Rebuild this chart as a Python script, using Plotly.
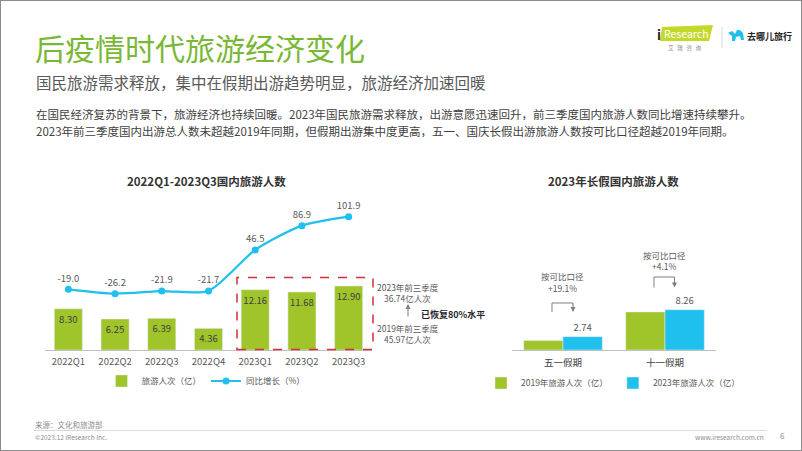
import plotly.graph_objects as go

W, H = 802, 451
FONT = "Noto Sans CJK SC"

# data - left chart
quarters = ['2022Q1', '2022Q2', '2022Q3', '2022Q4', '2023Q1', '2023Q2', '2023Q3']
trips = [8.30, 6.25, 6.39, 4.36, 12.16, 11.68, 12.90]      # 旅游人次（亿）
yoy = [-19.0, -26.2, -21.9, -21.7, 46.5, 86.9, 101.9]      # 同比增长（%）

# data - right chart
holidays = ['五一假期', '十一假期']
trips_2019 = [1.95, 7.82]
trips_2023 = [2.74, 8.26]

GREEN = '#a0c52b'
CYAN = '#1fbfee'
TITLE_GREEN = '#79b834'
GREY = '#595959'


def px(x):
    return x / W


def py(y):
    return 1 - y / H


fig = go.Figure()

fig.add_trace(go.Bar(
    x=quarters, y=trips, name='旅游人次（亿）', marker_color=GREEN, width=0.6,
    text=['%.2f' % v for v in trips], textposition='inside', insidetextanchor='end',
    textangle=0, constraintext='none', textfont=dict(size=9.5, color='#404040'),
    xaxis='x', yaxis='y', legend='legend'))

fig.add_trace(go.Scatter(
    x=quarters, y=yoy, name='同比增长（%）', mode='lines+markers+text',
    line=dict(color=CYAN, width=2.2, shape='spline', smoothing=0.7),
    marker=dict(size=7, color=CYAN),
    text=['%.1f' % v for v in yoy], textposition='top center',
    textfont=dict(size=9.5, color=GREY), cliponaxis=False,
    xaxis='x', yaxis='y2', legend='legend'))

fig.add_trace(go.Bar(
    x=holidays, y=trips_2019, name='2019年旅游人次（亿）', marker_color=GREEN,
    xaxis='x2', yaxis='y3', legend='legend2'))

fig.add_trace(go.Bar(
    x=holidays, y=trips_2023, name='2023年旅游人次（亿）', marker_color=CYAN,
    text=['%.2f' % v for v in trips_2023], textposition='outside', cliponaxis=False,
    textfont=dict(size=9.5, color=GREY),
    xaxis='x2', yaxis='y3', legend='legend2'))

ydom = [py(350), py(200)]

fig.update_layout(
    width=W, height=H,
    margin=dict(l=0, r=0, t=0, b=0),
    paper_bgcolor='white', plot_bgcolor='white',
    font=dict(family=FONT, color=GREY, size=9),
    barmode='group', bargap=0.23, bargroupgap=0,
    xaxis=dict(domain=[px(45), px(372)], anchor='y', showline=True, linecolor='#bfbfbf',
               linewidth=1, ticks='', showgrid=False, ticklabelstandoff=3,
               tickfont=dict(size=9.5, color=GREY)),
    yaxis=dict(domain=ydom, range=[0, 150 / 4.96], visible=False),
    yaxis2=dict(overlaying='y', range=[-120, 129.6], visible=False),
    xaxis2=dict(domain=[px(512), px(716)], anchor='y3', showline=True, linecolor='#bfbfbf',
                linewidth=1, ticks='', showgrid=False, ticklabelstandoff=4,
                tickfont=dict(size=9.5, color='#404040')),
    yaxis3=dict(domain=ydom, anchor='x2', range=[0, 150 / 4.87], visible=False),
    legend=dict(orientation='h', x=px(206), xanchor='center', y=py(381), yanchor='middle',
                font=dict(size=8.5, color=GREY), bgcolor='rgba(0,0,0,0)', itemwidth=30),
    legend2=dict(orientation='h', x=px(613), xanchor='center', y=py(383), yanchor='middle',
                 font=dict(size=8.5, color=GREY), bgcolor='rgba(0,0,0,0)', itemwidth=30),
)

ann = []


def note(x, y, text, size=9, color=GREY, anchor='center', **kw):
    ann.append(dict(x=px(x), y=py(y), xref='paper', yref='paper', text=text,
                    showarrow=False, xanchor=anchor, yanchor='middle', borderpad=0,
                    font=dict(size=size, color=color, family=FONT), **kw))


note(34, 47, '后疫情时代旅游经济变化', 30, TITLE_GREEN, 'left')
note(35, 82, '国民旅游需求释放，集中在假期出游趋势明显，旅游经济加速回暖', 15.5, GREY, 'left')
note(35, 114, '在国民经济复苏的背景下，旅游经济也持续回暖。2023年国民旅游需求释放，出游意愿迅速回升，'
              '前三季度国内旅游人数同比增速持续攀升。', 11.5, '#404040', 'left')
note(35, 131, '2023年前三季度国内出游总人数未超越2019年同期，但假期出游集中度更高，五一、国庆长假出游旅游'
              '人数按可比口径超越2019年同期。', 11.5, '#404040', 'left')

note(206, 181, '<b>2022Q1-2023Q3国内旅游人数</b>', 11.5, '#333333')
note(613, 181, '<b>2023年长假国内旅游人数</b>', 11.5, '#333333')

# annotations beside the dashed box
note(408, 286.5, '2023年前三季度', 8.5)
note(408, 297.5, '36.74亿人次', 8.5)
note(408, 327.5, '2019年前三季度', 8.5)
note(408, 338.5, '45.97亿人次', 8.5)
note(420, 314, '<b>已恢复80%水平</b>', 9, '#262626', 'left')
ann.append(dict(x=px(408), y=py(304), xref='paper', yref='paper', text='', showarrow=True,
                ax=0, ay=14, arrowhead=2, arrowsize=1, arrowwidth=1, arrowcolor='#7f7f7f'))

# comparable growth notes (right chart)
note(562, 276, '按可比口径', 8.5)
note(562, 287.5, '+19.1%', 8.5)
note(664, 254.5, '按可比口径', 8.5)
note(664, 266, '+4.1%', 8.5)
for x0, x1, yb, yt in [(552, 573, 312, 303), (654, 674.5, 287.5, 277)]:
    ann.append(dict(x=px(x1), y=py(yb), xref='paper', yref='paper', text='', showarrow=True,
                    ax=0, ay=-(yb - yt), arrowhead=2, arrowsize=1, arrowwidth=1,
                    arrowcolor='#7f7f7f'))

# logo + footer
note(656, 34, '<b>i</b>', 13, '#222222', 'left')
note(663, 33.5, 'Research', 10.5, 'white', 'left')
note(685, 48, '艾   瑞   咨   询', 5.5, '#8c8c8c')
note(746, 36, '<b>去哪儿旅行</b>', 9, '#222222', 'left')
note(34, 424, '来源：文化和旅游部', 7.5, '#8c8c8c', 'left')
note(34, 436.5, '©2023.12 iResearch Inc.', 6.5, '#8c8c8c', 'left')
note(765, 436.5, 'www.iresearch.com.cn', 6.5, '#8c8c8c', 'right')
note(782, 435, '6', 8, '#8c8c8c')

fig.update_layout(annotations=ann)


def path(points):
    return 'M ' + ' L '.join('%f,%f' % (px(a), py(b)) for a, b in points)


shapes = [
    dict(type='rect', xref='paper', yref='paper', x0=px(237), x1=px(373), y0=py(349.5),
         y1=py(277.5), line=dict(color='#d62d3c', width=1.5, dash='dash')),
    dict(type='path', xref='paper', yref='paper',
         path=path([(552, 312), (552, 303), (573, 303), (573, 305)]),
         line=dict(color='#7f7f7f', width=1)),
    dict(type='path', xref='paper', yref='paper',
         path=path([(654, 287.5), (654, 277), (674.5, 277), (674.5, 279)]),
         line=dict(color='#7f7f7f', width=1)),
    # iResearch badge
    dict(type='path', xref='paper', yref='paper', layer='below',
         path=path([(660, 41), (662, 27), (713, 25), (709, 41)]) + ' Z',
         fillcolor='#c3d92a', line=dict(width=0)),
    dict(type='line', xref='paper', yref='paper', x0=px(722), x1=px(722), y0=py(27), y1=py(48),
         line=dict(color='#d9d9d9', width=1)),
    # camel mark
    dict(type='path', xref='paper', yref='paper',
         path=path([(728, 33), (732, 31), (735, 34), (737, 30), (740, 30), (743, 33),
                    (744, 40), (741, 40), (740, 36), (736, 37), (735, 41), (732, 41),
                    (732, 36)]) + ' Z',
         fillcolor=CYAN, line=dict(width=0)),
    dict(type='line', xref='paper', yref='paper', x0=px(34), x1=px(767), y0=py(430.5),
         y1=py(430.5), line=dict(color='#d9d9d9', width=1)),
    dict(type='rect', xref='paper', yref='paper', x0=0, x1=1, y0=0, y1=1,
         line=dict(color='#8c8c8c', width=2)),
]
fig.update_layout(shapes=shapes)

fig.write_html("out.html", config={'displayModeBar': False},
               post_script="document.body.style.margin='0px';")
